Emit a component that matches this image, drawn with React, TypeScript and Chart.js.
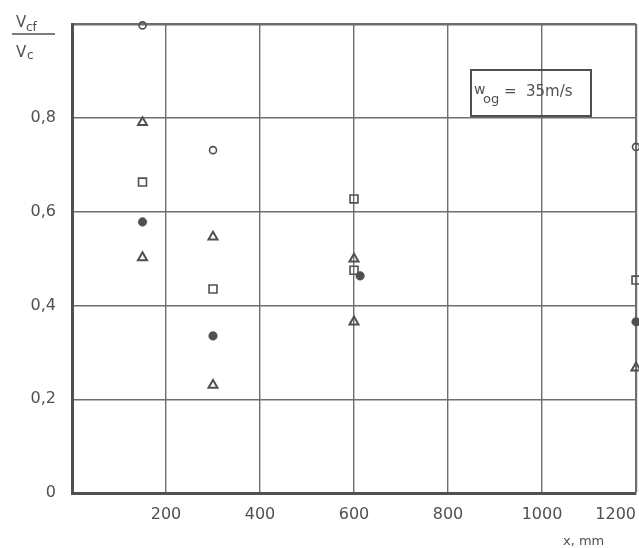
import { useEffect, useRef } from 'react';
import { Chart, registerables } from 'chart.js';

Chart.register(...registerables);

// Axis ticks
const xTickValues = [0, 200, 400, 600, 800, 1000, 1200];
const yTickValues = [0, 0.2, 0.4, 0.6, 0.8, 1.0];
const yTickLabels = ['0', '0,2', '0,4', '0,6', '0,8', ''];

// Series: open circles
const openCircleX = [150, 300, 1200];
const openCircleY = [0.997, 0.731, 0.738];

// Series: open triangles
const openTriangleX = [150, 150, 300, 300, 600, 600, 1200];
const openTriangleY = [0.79, 0.502, 0.546, 0.23, 0.499, 0.365, 0.267];

// Series: open squares
const openSquareX = [150, 300, 600, 600, 1200];
const openSquareY = [0.663, 0.435, 0.627, 0.475, 0.454];

// Series: filled circles
const filledCircleX = [150, 300, 613, 1200];
const filledCircleY = [0.578, 0.335, 0.463, 0.365];

const INK = '#505050';
const GRID = '#6e6e6e';
const FONT = 'DejaVu Sans';

const toPoints = (xs: number[], ys: number[]) => xs.map((x, i) => ({ x, y: ys[i] }));

const annotations = {
  id: 'annotations',
  afterDraw(chart: any) {
    const ctx = chart.ctx as CanvasRenderingContext2D;
    ctx.save();
    ctx.fillStyle = INK;
    ctx.strokeStyle = INK;
    ctx.textBaseline = 'alphabetic';
    ctx.textAlign = 'left';
    // y-axis title as fraction V_cf / V_c
    ctx.font = `15px "${FONT}"`;
    ctx.fillText('V', 16, 27);
    ctx.font = `12px "${FONT}"`;
    ctx.fillText('cf', 26, 31);
    ctx.lineWidth = 1.5;
    ctx.beginPath();
    ctx.moveTo(12, 34);
    ctx.lineTo(55, 34);
    ctx.stroke();
    ctx.font = `15px "${FONT}"`;
    ctx.fillText('V', 16, 57);
    ctx.font = `12px "${FONT}"`;
    ctx.fillText('c', 27, 59);

    // label box
    ctx.lineWidth = 2;
    ctx.strokeRect(471, 70, 120, 46);
    ctx.font = `14px "${FONT}"`;
    ctx.fillText('w', 474, 94);
    ctx.font = `13px "${FONT}"`;
    ctx.fillText('og', 483, 103);
    ctx.font = `15px "${FONT}"`;
    ctx.fillText('=', 504, 96);
    ctx.fillText('35m/s', 526, 96);

    // x-axis title
    ctx.font = `13px "${FONT}"`;
    ctx.fillText('x, mm', 563, 545);
    ctx.restore();
  },
};

export default function App() {
  const canvasRef = useRef<HTMLCanvasElement | null>(null);

  useEffect(() => {
    if (!canvasRef.current) return;
    const common = { borderColor: INK, borderWidth: 1.6, showLine: false, clip: false as any };
    const chart = new Chart(canvasRef.current, {
      type: 'scatter',
      data: {
        datasets: [
          {
            label: 'open circle',
            data: toPoints(openCircleX, openCircleY),
            pointStyle: 'circle',
            pointRadius: 3.5,
            backgroundColor: 'rgba(0,0,0,0)',
            ...common,
          },
          {
            label: 'open triangle',
            data: toPoints(openTriangleX, openTriangleY),
            pointStyle: 'triangle',
            pointRadius: 5.2,
            backgroundColor: 'rgba(0,0,0,0)',
            ...common,
            borderWidth: 2,
          },
          {
            label: 'open square',
            data: toPoints(openSquareX, openSquareY),
            pointStyle: 'rect',
            pointRadius: 5.6,
            backgroundColor: 'rgba(0,0,0,0)',
            ...common,
          },
          {
            label: 'filled circle',
            data: toPoints(filledCircleX, filledCircleY),
            pointStyle: 'circle',
            pointRadius: 4.3,
            backgroundColor: INK,
            ...common,
            borderWidth: 0.5,
          },
        ],
      },
      options: {
        animation: false,
        responsive: false,
        layout: { autoPadding: false, padding: { top: 24, right: 3, left: 0, bottom: 0 } },
        plugins: { legend: { display: false }, tooltip: { enabled: false } },
        scales: {
          x: {
            type: 'linear',
            min: 0,
            max: 1200,
            afterFit: (s: any) => {
              s.height = 55;
              s.paddingLeft = 0;
              s.paddingRight = 0;
            },
            afterBuildTicks: (s: any) => { s.ticks = xTickValues.map((v) => ({ value: v })); },
            ticks: {
              align: 'inner',
              padding: 12,
              color: INK,
              font: { family: FONT, size: 16 },
              maxRotation: 0,
              callback: (v: any) => (Number(v) === 0 ? '' : String(v)),
            },
            grid: {
              drawTicks: false,
              color: GRID,
              lineWidth: (c: any) => (c.tick && c.tick.value === 1200 ? 2.2 : 1.4),
            },
            border: { display: true, color: INK, width: 3 },
          },
          y: {
            type: 'linear',
            min: 0,
            max: 1,
            afterFit: (s: any) => {
              s.width = 72;
              s.paddingTop = 0;
              s.paddingBottom = 0;
            },
            afterBuildTicks: (s: any) => { s.ticks = yTickValues.map((v) => ({ value: v })); },
            ticks: {
              padding: 16,
              color: INK,
              font: { family: FONT, size: 16 },
              callback: (_v: any, i: number) => yTickLabels[i],
            },
            grid: {
              drawTicks: false,
              color: GRID,
              lineWidth: (c: any) => (c.tick && c.tick.value === 1 ? 2.6 : 1.4),
            },
            border: { display: true, color: INK, width: 3 },
          },
        },
      },
      plugins: [annotations],
    });
    return () => chart.destroy();
  }, []);

  return (
    <div style={{ position: 'fixed', left: 0, top: 0, width: 639, height: 548, background: '#fff' }}>
      <canvas ref={canvasRef} width={639} height={548} style={{ width: 639, height: 548, display: 'block' }} />
    </div>
  );
}
